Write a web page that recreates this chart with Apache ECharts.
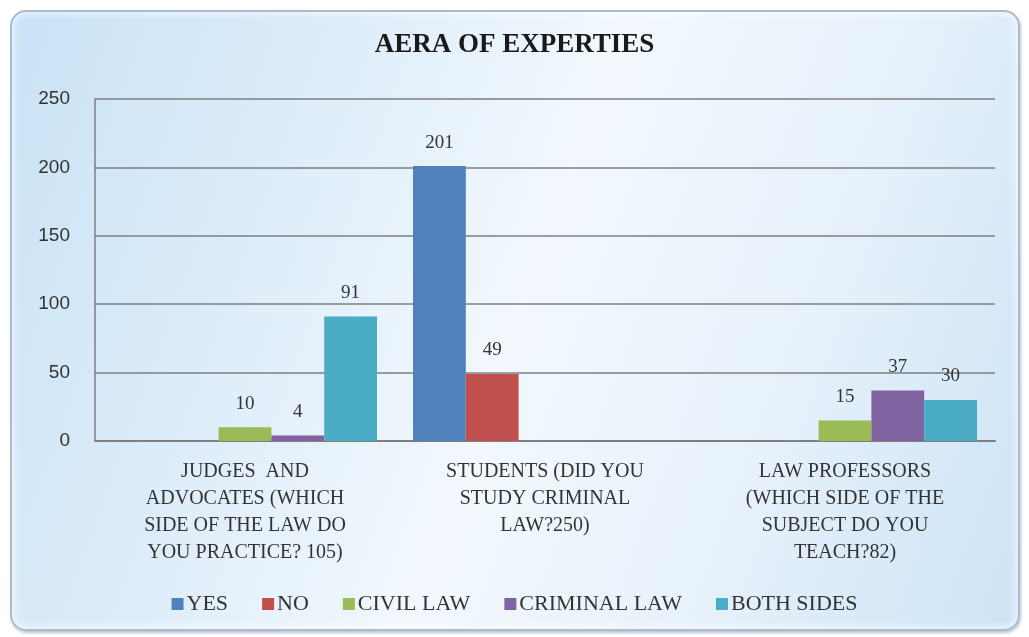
<!DOCTYPE html>
<html><head><meta charset="utf-8">
<script src="https://cdn.jsdelivr.net/npm/echarts@6/dist/echarts.min.js"></script>
<style>
html,body{margin:0;padding:0;background:#ffffff;}
#wrap{position:absolute;left:10px;top:10px;width:1006px;height:617px;border-radius:16px;border:2px solid #a9bccf;
background:linear-gradient(110deg,#c9e2f5 0%,#dcecf9 25%,#f2f8fd 50%,#e8f2fb 72%,#cce3f5 100%);box-shadow:inset 0 0 10px #ffffff, 1px 2px 3px #b8c4cf;}
#chart{position:absolute;left:0;top:0;width:1029px;height:637px;}
</style></head>
<body>
<div id="wrap"></div>
<div id="chart"></div>
<script>
const categories = [
  "JUDGES  AND\nADVOCATES (WHICH\nSIDE OF THE LAW DO\nYOU PRACTICE? 105)",
  "STUDENTS (DID YOU\nSTUDY CRIMINAL\nLAW?250)",
  "LAW PROFESSORS\n(WHICH SIDE OF THE\nSUBJECT DO YOU\nTEACH?82)"
];
const seriesNames = ["YES", "NO", "CIVIL LAW", "CRIMINAL LAW", "BOTH SIDES"];
const yesValues = [null, 201, null];
const noValues = [null, 49, null];
const civilValues = [10, null, 15];
const criminalValues = [4, null, 37];
const bothValues = [91, null, 30];
const yTicks = [0, 50, 100, 150, 200, 250];
const colors = ["#4f81bd", "#c0504d", "#9bbb59", "#8064a2", "#4bacc6"];

const allValues = [yesValues, noValues, civilValues, criminalValues, bothValues];
const chart = echarts.init(document.getElementById('chart'));
chart.setOption({
  animation: false,
  backgroundColor: 'transparent',
  title: {
    text: 'AERA OF EXPERTIES', left: 'center', top: 27,
    textStyle: {fontFamily: 'Liberation Serif', fontWeight: 'bold', fontSize: 27, color: '#1a1a1a'}
  },
  legend: {
    bottom: 17, left: 'center', itemWidth: 12, itemHeight: 12, itemGap: 34, icon: 'rect',
    textStyle: {fontFamily: 'Liberation Serif', fontSize: 22, color: '#333', padding: [0, 0, 0, -2]},
    data: seriesNames
  },
  grid: {left: 95, right: 34, top: 99, bottom: 196},
  xAxis: {
    type: 'category', data: categories,
    axisLine: {lineStyle: {color: '#7f7f7f', width: 2}},
    axisTick: {show: false},
    axisLabel: {fontFamily: 'Liberation Serif', fontSize: 20, color: '#333', lineHeight: 27, margin: 17, interval: 0}
  },
  yAxis: {
    type: 'value', min: yTicks[0], max: yTicks[yTicks.length - 1], interval: 50,
    axisLine: {show: true, lineStyle: {color: '#7f7f7f', width: 1.5}},
    axisTick: {show: false},
    splitLine: {lineStyle: {color: '#7f7f7f', width: 1.5}},
    axisLabel: {fontFamily: 'Liberation Sans', fontSize: 19, color: '#333', margin: 25}
  },
  series: seriesNames.map((n, i) => ({
    name: n, type: 'bar', data: allValues[i], barGap: '0%', barCategoryGap: '12%',
    itemStyle: {color: colors[i]},
    label: {show: true, position: 'top', distance: 14, fontFamily: 'Liberation Serif', fontSize: 19, color: '#333'}
  }))
});
</script>
</body></html>
